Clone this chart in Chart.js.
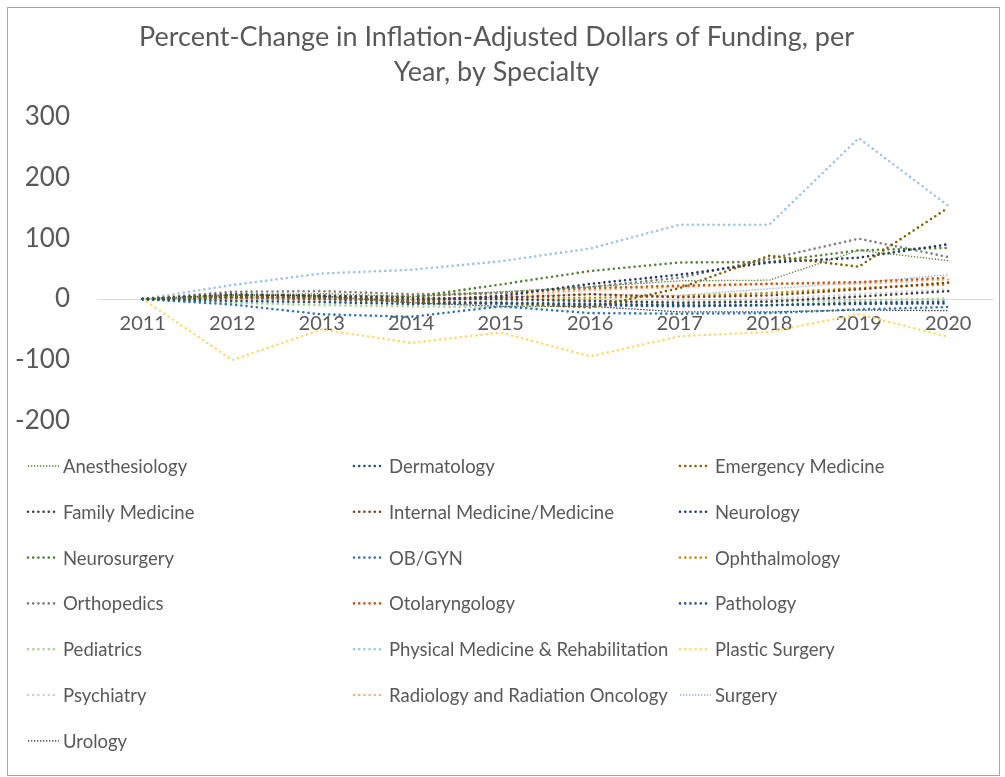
<!DOCTYPE html>
<html>
<head>
<meta charset="utf-8">
<script src="https://cdn.jsdelivr.net/npm/chart.js@4/dist/chart.umd.min.js"></script>
<style>
  html, body { margin: 0; padding: 0; background: #fff; }
  #frame { position: absolute; left: 7px; top: 7px; width: 991px; height: 767px; border: 1px solid #A6A6A6; }
  #wrap { position: absolute; left: 0; top: 0; width: 1005px; height: 777px; }
</style>
</head>
<body>
<div id="frame"></div>
<div id="wrap"><canvas id="fundingChart"></canvas></div>
<script>
// Percent change per year
const years = ['2011', '2012', '2013', '2014', '2015', '2016', '2017', '2018', '2019', '2020'];
const yTicks = [-200, -100, 0, 100, 200, 300];

const anesthesiology    = [0, 6, 9, 4, 12, 20, 30, 31, 80, 63];
const dermatology       = [0, -3, -5, -8, -6, -8, -10, -10, -8, -7];
const emergencyMedicine = [0, 3, 2, -4, -6, -14, 18, 71, 53, 150];
const familyMedicine    = [0, 8, 6, 2, 0, -3, -6, -4, 4, 13];
const internalMedicine  = [0, 3, 2, -2, 2, 8, 3, 6, 16, 27];
const neurology         = [0, 5, 4, -3, 5, 25, 40, 60, 68, 90];
const neurosurgery      = [0, 4, 5, 3, 24, 46, 60, 61, 80, 84];
const obGyn             = [0, -9, -25, -29, -12, -23, -24, -23, -17, -13];
const ophthalmology     = [0, 5, 5, 0, 3, 2, 5, 10, 18, 24];
const orthopedics       = [0, 12, 13, 8, 10, 20, 35, 66, 99, 69];
const otolaryngology    = [0, 2, 3, 5, 10, 18, 22, 25, 28, 35];
const pathology         = [0, 2, 0, -5, -8, -10, -12, -10, -6, -4];
const pediatrics        = [0, -6, -10, -12, -13, -10, -8, -5, -2, 1];
const physicalMedicine  = [0, 23, 42, 48, 62, 83, 122, 122, 264, 153];
const plasticSurgery    = [0, -100, -50, -72, -55, -94, -61, -54, -25, -62];
const psychiatry        = [0, 2, 0, -3, -2, -5, -3, 0, 8, 16];
const radiology         = [0, 0, -3, -2, 5, 15, 20, 25, 25, 32];
const surgery           = [0, 3, 2, 0, 3, 8, 6, 17, 27, 40];
const urology           = [0, 7, 5, -6, -12, -12, -21, -21, -18, -19];

// label, values, colour, fine dotted?
const series = [
    ['Anesthesiology', anesthesiology, '#548235', true],
    ['Dermatology', dermatology, '#1F4E79', false],
    ['Emergency Medicine', emergencyMedicine, '#7F6000', false],
    ['Family Medicine', familyMedicine, '#404040', false],
    ['Internal Medicine/Medicine', internalMedicine, '#843C0C', false],
    ['Neurology', neurology, '#203864', false],
    ['Neurosurgery', neurosurgery, '#548235', false],
    ['OB/GYN', obGyn, '#2E75B6', false],
    ['Ophthalmology', ophthalmology, '#BF9000', false],
    ['Orthopedics', orthopedics, '#7F7F7F', false],
    ['Otolaryngology', otolaryngology, '#C55A11', false],
    ['Pathology', pathology, '#2F5597', false],
    ['Pediatrics', pediatrics, '#A9D18E', false],
    ['Physical Medicine & Rehabilitation', physicalMedicine, '#9DC3E6', false],
    ['Plastic Surgery', plasticSurgery, '#FFD966', false],
    ['Psychiatry', psychiatry, '#D0D0D0', false],
    ['Radiology and Radiation Oncology', radiology, '#F4B183', false],
    ['Surgery', surgery, '#8FAADC', true],
    ['Urology', urology, '#262626', true]
];

const FONT = 'Lato, "Open Sans", sans-serif';
const GREY_TEXT = '#595959';

// legend in 3 fixed columns, like the Excel one
const columnLegend = {
    id: 'columnLegend',
    afterDraw(chart) {
        const ctx = chart.ctx;
        ctx.save();
        ctx.font = '18.5px ' + FONT;
        ctx.fillStyle = GREY_TEXT;
        ctx.textBaseline = 'middle';
        chart.data.datasets.forEach((ds, i) => {
            const x = 27 + (i % 3) * 326;
            const y = 466 + Math.floor(i / 3) * 45.8;
            ctx.strokeStyle = ds.borderColor;
            ctx.lineWidth = ds.borderWidth;
            ctx.lineCap = ds.borderCapStyle;
            ctx.setLineDash(ds.borderDash);
            ctx.beginPath();
            ctx.moveTo(x + 1, y);
            ctx.lineTo(x + 32, y);
            ctx.stroke();
            ctx.setLineDash([]);
            ctx.fillText(ds.label, x + 36, y + 1);
        });
        ctx.restore();
    }
};

new Chart(document.getElementById('fundingChart'), {
    type: 'line',
    data: {
        labels: years,
        datasets: series.map(([label, values, color, fine]) => ({
            label: label,
            data: values,
            borderColor: color,
            backgroundColor: color,
            borderWidth: fine ? 1.3 : 2.6,
            borderDash: fine ? [1.3, 1.7] : [0, 5.2],
            borderCapStyle: fine ? 'butt' : 'round',
            pointRadius: 0,
            tension: 0,
            fill: false
        }))
    },
    plugins: [columnLegend],
    options: {
        responsive: true,
        maintainAspectRatio: false,
        animation: false,
        layout: { padding: { left: 0, right: 12, top: 0, bottom: 356 } },
        plugins: {
            legend: { display: false },
            tooltip: { enabled: false },
            title: {
                display: true,
                text: ['Percent-Change in Inflation-Adjusted Dollars of Funding, per', 'Year, by Specialty'],
                color: GREY_TEXT,
                font: { family: FONT, size: 27, weight: 'normal', lineHeight: 1.3 },
                padding: { top: 20, bottom: 26 }
            }
        },
        scales: {
            x: {
                position: { y: 0 },
                offset: true,
                grid: { display: false, drawTicks: false },
                border: { display: true, color: '#D9D9D9', width: 1 },
                ticks: { color: GREY_TEXT, font: { family: FONT, size: 20 }, padding: 12, maxRotation: 0 }
            },
            y: {
                min: -200,
                max: 300,
                afterBuildTicks(scale) { scale.ticks = yTicks.map(v => ({ value: v })); },
                afterFit(scale) { scale.width = 98; },
                grid: { display: false, drawTicks: false },
                border: { display: false },
                ticks: { color: GREY_TEXT, font: { family: FONT, size: 26 }, padding: 28 }
            }
        }
    }
});
</script>
</body>
</html>
